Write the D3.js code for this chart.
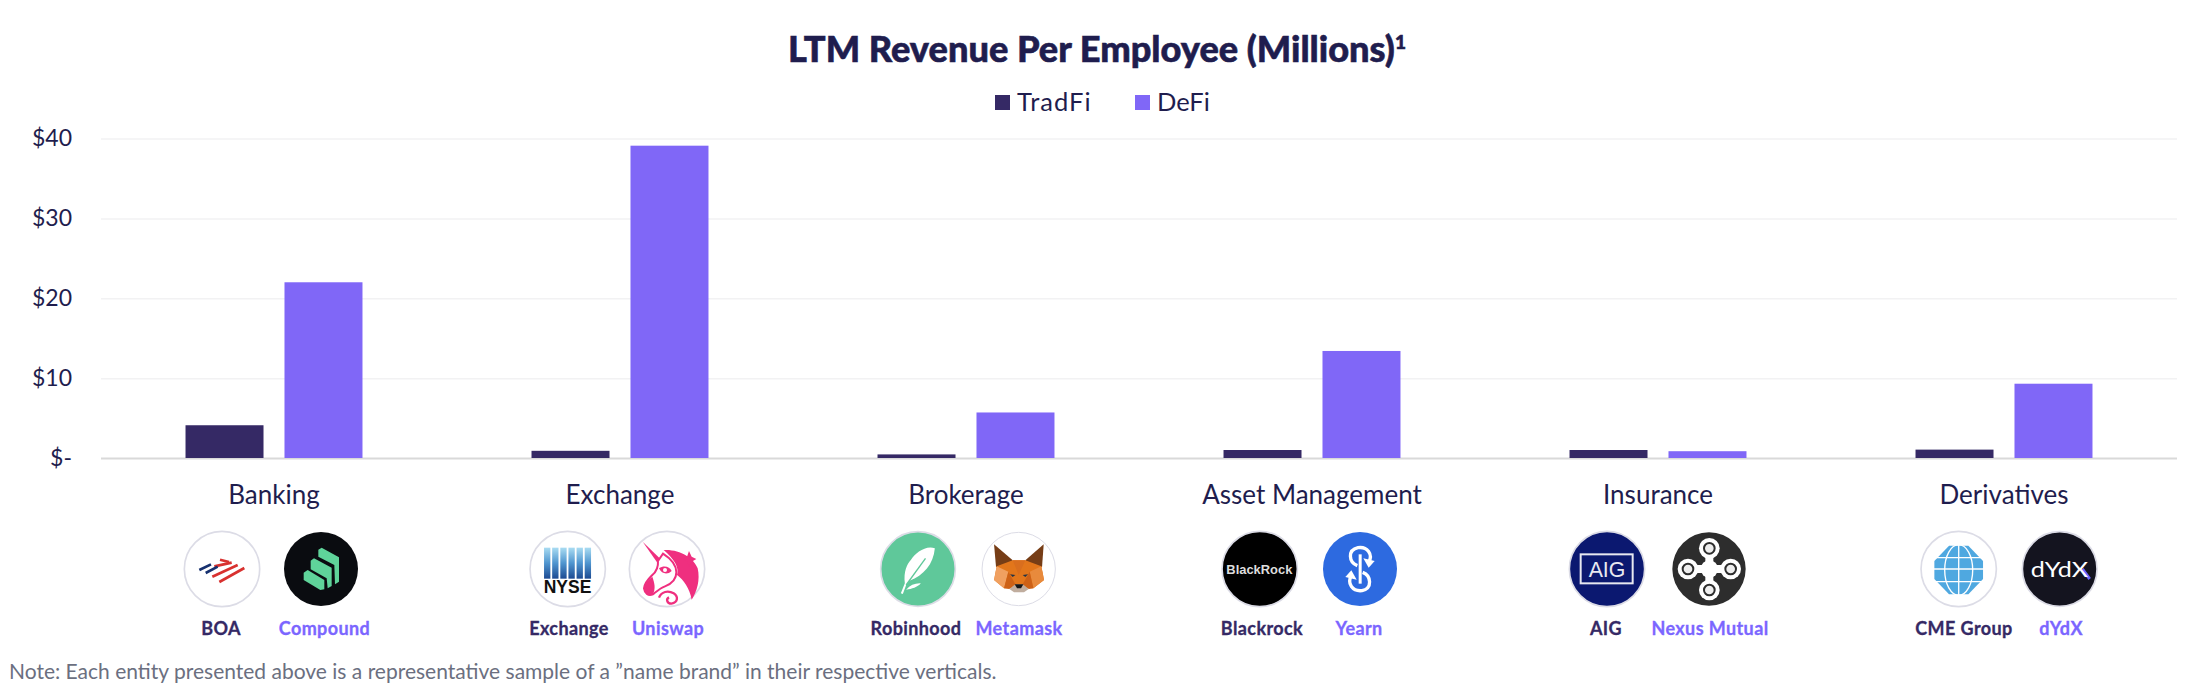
<!DOCTYPE html>
<html>
<head>
<meta charset="utf-8">
<script src="https://cdn.jsdelivr.net/npm/d3@7/dist/d3.min.js"></script>
<style>
    html, body { margin: 0; padding: 0; background: #fff; overflow: hidden; }
    text { font-family: Lato, "Open Sans", sans-serif; }
</style>
</head>
<body>
<svg id="chart" width="2198" height="683"></svg>
<script>
var categories = ["Banking", "Exchange", "Brokerage", "Asset Management", "Insurance", "Derivatives"];
var seriesNames = ["TradFi", "DeFi"];
var tradFi = [4.1, 0.9, 0.45, 1.0, 1.0, 1.05];
var deFi = [22.0, 39.1, 5.7, 13.4, 0.85, 9.3];
var yTicks = [0, 10, 20, 30, 40];
var tradFiEntities = ["BOA", "Exchange", "Robinhood", "Blackrock", "AIG", "CME Group"];
var deFiEntities = ["Compound", "Uniswap", "Metamask", "Yearn", "Nexus Mutual", "dYdX"];

var titleText = "LTM Revenue Per Employee (Millions)";
var noteText = "Note: Each entity presented above is a representative sample of a \u201Dname brand\u201D in their respective verticals.";

var INK = "#1f1d4e", DARK = "#352965", PURPLE = "#8067f7", RING = "#dcdce6";
var seriesColor = d3.scaleOrdinal().domain(seriesNames).range([DARK, PURPLE]);

var svg = d3.select("#chart");

var x0 = d3.scaleBand().domain(categories).range([101, 2177]);
var x1 = d3.scaleBand().domain(seriesNames).range([0, x0.bandwidth()])
    .paddingInner(0.212).paddingOuter(0.854);
var y = d3.scaleLinear().domain([0, 40]).range([458, 138.5]);

// title + legend
var title = svg.append("text")
    .attr("x", 1097).attr("y", 62)
    .attr("text-anchor", "middle")
    .attr("font-size", 36.2).attr("font-weight", 900).attr("fill", INK)
    .attr("stroke", INK).attr("stroke-width", 0.6)
    .text(titleText);
title.append("tspan").attr("dy", -13).attr("font-size", 19).text("1");

var legend = svg.selectAll(".legend").data(seriesNames).enter().append("g")
    .attr("class", "legend")
    .attr("transform", function (d, i) { return "translate(" + [995, 1135][i] + ",95)"; });
legend.append("rect").attr("width", 15).attr("height", 15)
    .attr("fill", function (d) { return seriesColor(d); });
legend.append("text").attr("x", 22).attr("y", 16)
    .attr("font-size", 25.5).attr("fill", INK)
    .attr("letter-spacing", function (d) { return d === "TradFi" ? 1 : 0; })
    .text(function (d) { return d; });

// gridlines
var grid = svg.append("g").attr("transform", "translate(101,0)")
    .call(d3.axisLeft(y).tickValues(yTicks).tickSize(-2076).tickFormat(""));
grid.select(".domain").remove();
grid.selectAll("line").attr("stroke", function (d) { return d === 0 ? "#d9d9d9" : "#f2f2f3"; })
    .attr("stroke-width", function (d) { return d === 0 ? 2 : 1.5; });

// y labels
var yAxis = svg.append("g").attr("transform", "translate(101,0)")
    .call(d3.axisLeft(y).tickValues(yTicks).tickSize(0).tickPadding(29)
        .tickFormat(function (d) { return d === 0 ? "$-" : "$" + d; }));
yAxis.select(".domain").remove();
yAxis.selectAll("text").attr("font-size", 23).attr("fill", INK)
    .style("font-family", "Lato, sans-serif");

// bars
var groups = svg.selectAll(".cat").data(categories).enter().append("g")
    .attr("class", "cat")
    .attr("transform", function (d) { return "translate(" + x0(d) + ",0)"; });
groups.selectAll("rect")
    .data(function (d, i) {
        return [{ s: "TradFi", v: tradFi[i] }, { s: "DeFi", v: deFi[i] }];
    })
    .enter().append("rect")
    .attr("x", function (d) { return x1(d.s); })
    .attr("y", function (d) { return y(d.v); })
    .attr("width", x1.bandwidth())
    .attr("height", function (d) { return y(0) - y(d.v); })
    .attr("fill", function (d) { return seriesColor(d.s); });

// category labels
var xAxis = svg.append("g").attr("transform", "translate(0,458)")
    .call(d3.axisBottom(x0).tickSize(0).tickPadding(28));
xAxis.select(".domain").remove();
xAxis.selectAll("text").attr("font-size", 26).attr("fill", INK)
    .style("font-family", "Lato, sans-serif");

// entity names under the logos
function names(list, xs, color) {
    svg.selectAll(null).data(list).enter().append("text")
        .attr("x", function (d, i) { return xs[i]; })
        .attr("y", 635)
        .attr("text-anchor", "middle")
        .attr("font-size", 18).attr("font-weight", 700)
        .attr("letter-spacing", 0.4)
        .attr("stroke", color).attr("stroke-width", 0.3)
        .attr("fill", color)
        .text(function (d) { return d; });
}
names(tradFiEntities, [221, 569, 916, 1262, 1606, 1964], DARK);
names(deFiEntities, [324.5, 668, 1019, 1359, 1710, 2061], "#7b66ff");

// the reference cuts this line at the image edge, kept fully visible here
svg.append("text").attr("x", 9).attr("y", 678.5)
    .attr("font-size", 21).attr("fill", "#6b6f80")
    .text(noteText);

// logos: drawn in a 3x unit box, (ox, oy) is the circle centre inside that box
function logo(cx, ox, oy, r, fill, ring) {
    var g = svg.append("g").attr("transform",
        "translate(" + cx + ",569) scale(" + (1 / 3) + ") translate(" + (-ox) + "," + (-oy) + ")");
    g.append("circle").attr("cx", ox).attr("cy", oy).attr("r", r)
        .attr("fill", fill).attr("stroke", ring || "none").attr("stroke-width", ring ? 5 : 0);
    return g;
}
function poly(g, pts, fill) {
    return g.append("polygon").attr("points", pts).attr("fill", fill);
}
function line(g, d, color, w) {
    return g.append("path").attr("d", d).attr("fill", "none")
        .attr("stroke", color).attr("stroke-width", w);
}

// BOA
var boa = logo(222, 141, 132, 113, "#fff", RING);
[["M133,171L208,129", "#d8312f"], ["M112,155L188,120", "#d8312f"], ["M118,124L170,113", "#d8312f"],
    ["M135,104L162,111", "#d8312f"], ["M73,135L108,118", "#16306f"], ["M92,144L128,125", "#16306f"]]
    .forEach(function (s) { line(boa, s[0], s[1], 8); });

// Compound
var comp = logo(321, 438, 132, 111, "#0a0c10");
poly(comp, "386,143 398,135 448,165 448,193 436,195 386,165", "#5fd49a");
poly(comp, "407,107 417,100 470,128 470,183 458,190 455,160 407,133", "#5fd49a");
poly(comp, "430,74 440,68 492,97 492,170 480,178 478,120 430,95", "#5fd49a");

// NYSE
var grad = svg.append("defs").append("linearGradient").attr("id", "nyseGrad")
    .attr("x1", 0).attr("y1", 0).attr("x2", 0).attr("y2", 1);
grad.append("stop").attr("offset", 0).attr("stop-color", "#a9dcf2");
grad.append("stop").attr("offset", 0.5).attr("stop-color", "#4f95cf");
grad.append("stop").attr("offset", 1).attr("stop-color", "#1c4a92");
var nyse = logo(567.7, 143, 132, 113, "#fff", RING);
d3.range(6).forEach(function (i) {
    nyse.append("rect").attr("x", 72 + i * 24.4).attr("y", 68).attr("width", 19).attr("height", 93)
        .attr("fill", "url(#nyseGrad)");
});
nyse.append("text").attr("x", 71).attr("y", 204).attr("font-size", 56).attr("font-weight", 700)
    .attr("textLength", 143).attr("lengthAdjust", "spacingAndGlyphs")
    .style("font-family", "Liberation Sans").attr("fill", "#111").text("NYSE");

// Uniswap
var uni = logo(667, 442, 132, 113, "#fff", RING);
var PINK = "#ef2f7f";
poly(uni, "369,50 420,100 412,112", PINK);
uni.append("path").attr("fill", PINK)
    .attr("d", "M432,75C480,72 522,98 534,130C542,165 532,200 516,224C510,190 492,165 472,150C480,128 462,100 432,75Z");
uni.append("path").attr("fill", "none").attr("stroke", PINK).attr("stroke-width", 6)
    .attr("d", "M415,108L430,86C452,100 470,118 470,142C470,165 452,178 436,184C420,190 410,200 400,208C385,214 375,205 373,190C375,172 388,160 398,150C410,140 416,125 415,108Z");
uni.append("path").attr("fill", PINK)
    .attr("d", "M373,190C376,172 388,162 398,155C405,175 408,190 400,208C385,214 375,205 373,190Z");
uni.append("path").attr("fill", PINK)
    .attr("d", "M418,130C432,120 450,124 456,138C444,150 426,148 418,130Z");
uni.append("circle").attr("cx", 436).attr("cy", 135).attr("r", 6).attr("fill", "#fff");
line(uni, "M418,218C425,200 445,195 462,205C476,214 476,232 455,236C442,236 438,222 448,217", PINK, 7);
poly(uni, "508,78 516,95 530,102 516,110 508,124 502,110 490,102 502,95", PINK);

// Robinhood
var rh = logo(918, 143.5, 132, 112, "#5fc89a", RING);
rh.append("path").attr("fill", "#fff")
    .attr("d", "M194,70C166,60 135,85 122,105C110,118 100,140 104,175L92,205L98,207L108,180L118,167C160,152 190,118 194,70Z");
line(rh, "M108,180L166,100", "#5fc89a", 4);
rh.append("path").attr("fill", "#fff")
    .attr("d", "M108,194C125,192 142,187 152,175C135,174 120,180 108,194Z");

// Metamask
var mm = logo(1018.7, 446, 132, 110, "#fff", RING);
mm.select("circle").attr("stroke-width", 3);
poly(mm, "372,58 428,106 415,132 378,126", "#763d16");
poly(mm, "521,58 466,106 479,132 516,126", "#763d16");
poly(mm, "380,124 428,106 466,106 514,124 522,165 490,190 402,190 372,165", "#e2761b");
poly(mm, "372,165 380,124 415,140 402,190", "#f0a060");
poly(mm, "522,165 514,124 479,140 490,190", "#e88a3c");
poly(mm, "428,106 446,150 466,106", "#d96e1e");
poly(mm, "402,190 415,140 436,178 418,192", "#cd6116");
poly(mm, "490,190 479,140 458,178 476,192", "#cd6116");
poly(mm, "418,192 436,178 458,178 476,192 462,202 432,202", "#c0ad9e");
poly(mm, "434,178 460,178 453,190 441,190", "#161616");
poly(mm, "420,148 436,150 428,156", "#233447");
poly(mm, "474,148 458,150 466,156", "#233447");

// Blackrock
var br = logo(1259.7, 134, 132, 113, "#000", RING);
br.append("text").attr("x", 34).attr("y", 147).attr("font-size", 38).attr("font-weight", 700)
    .attr("textLength", 198).attr("lengthAdjust", "spacingAndGlyphs")
    .style("font-family", "Liberation Sans").attr("fill", "#ddd").text("BlackRock");

// Yearn
var yr = logo(1360, 436, 132, 111, "#2d6ae0");
line(yr, "M428,122C402,112 398,75 430,68C458,64 476,88 462,112", "#fff", 10);
line(yr, "M444,142C470,152 474,190 442,197C414,200 396,176 410,152", "#fff", 10);
yr.append("rect").attr("x", 432).attr("y", 88).attr("width", 9).attr("height", 88).attr("fill", "#fff");
poly(yr, "446,100 480,108 462,128", "#fff");
poly(yr, "426,164 392,156 410,136", "#fff");

// AIG
var aig = logo(1607, 141, 132, 113, "#0b1870", RING);
aig.append("rect").attr("x", 62).attr("y", 88).attr("width", 156).attr("height", 87)
    .attr("fill", "none").attr("stroke", "#e8e8f0").attr("stroke-width", 6);
aig.append("text").attr("x", 141).attr("y", 156).attr("text-anchor", "middle").attr("font-size", 64)
    .style("font-family", "Liberation Sans").attr("fill", "#e8e8f0").text("AIG");

// Nexus Mutual
var nx = logo(1709, 448, 132, 110, "#2d2d2d");
[[449, 70], [385, 132], [513, 132], [449, 195]].forEach(function (p) {
    line(nx, "M449,132L" + p[0] + "," + p[1], "#fff", 24);
});
nx.append("circle").attr("cx", 449).attr("cy", 132).attr("r", 26).attr("fill", "#fff");
[[449, 70], [385, 132], [513, 132], [449, 195]].forEach(function (p) {
    nx.append("circle").attr("cx", p[0]).attr("cy", p[1]).attr("r", 31).attr("fill", "#fff");
    nx.append("circle").attr("cx", p[0]).attr("cy", p[1]).attr("r", 16).attr("fill", "#eee")
        .attr("stroke", "#2d2d2d").attr("stroke-width", 6);
});

// CME
var cme = logo(1958.7, 131, 132, 113, "#fff", RING);
poly(cme, "102,62 160,62 204,108 204,162 160,208 102,208 58,162 58,108", "#4fa8e0");
[98, 132, 170].forEach(function (yy) {
    line(cme, "M55," + yy + "L207," + yy, "#fff", 4);
});
line(cme, "M131,58L131,212", "#fff", 4);
cme.append("ellipse").attr("cx", 131).attr("cy", 135).attr("rx", 42).attr("ry", 76)
    .attr("fill", "none").attr("stroke", "#fff").attr("stroke-width", 4);

// dYdX
var dy = logo(2059.7, 434, 132, 112, "#14141f", RING);
line(dy, "M502,132L524,162", "#6966ff", 9);
dy.append("text").attr("x", 347).attr("y", 157).attr("font-size", 62)
    .attr("textLength", 172).attr("lengthAdjust", "spacingAndGlyphs")
    .attr("fill", "#fff").text("dYdX");
</script>
</body>
</html>
